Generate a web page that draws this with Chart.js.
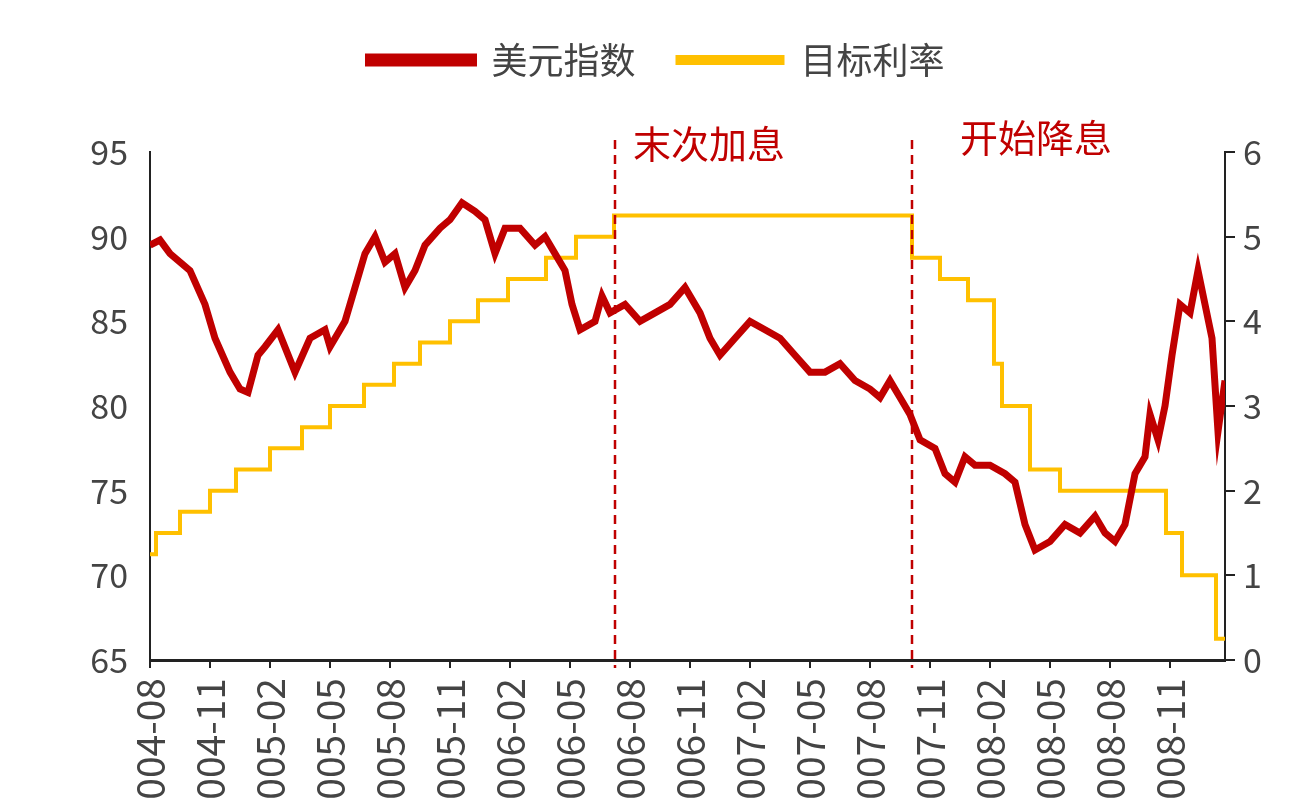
<!DOCTYPE html>
<html><head><meta charset="utf-8">
<script src="https://cdn.jsdelivr.net/npm/chart.js@4"></script>
<style>html,body{margin:0;padding:0;background:#fff;overflow:hidden}#wrap{width:1313px;height:900px}</style>
</head><body><div id="wrap"><canvas id="c" width="1313" height="900"></canvas></div>
<script>
// months counted from 2004-08
const dxyX = [0,0.5,1,2,2.75,3.25,4,4.5,4.9,5.4,5.75,6.4,7.25,8,8.75,9,9.75,10.25,10.75,11.25,11.75,12.25,12.75,13.25,13.75,14.5,15,15.6,16.25,16.75,17.25,17.75,18.5,19.25,19.75,20.25,20.75,21.1,21.5,22.25,22.6,23,23.75,24.5,25.25,26,26.75,27.5,28,28.5,29.25,30,30.75,31.5,32.25,33,33.75,34.5,35.25,36,36.5,37,37.5,38,38.5,39.25,39.75,40.25,40.75,41.25,42,42.75,43.25,43.75,44.25,45,45.75,46.5,47.25,47.75,48.25,48.75,49.25,49.75,50,50.4,50.75,51.1,51.5,52,52.4,52.75,53.1,53.4,53.75];
const dxyY = [89.5,89.8,89,88,86,84,82,81,80.8,83,83.5,84.5,82,84,84.5,83.5,85,87,89,90,88.5,89,87,88,89.5,90.5,91,92,91.5,91,89,90.5,90.5,89.5,90,89,88,86,84.5,85,86.5,85.5,86,85,85.5,86,87,85.5,84,83,84,85,84.5,84,83,82,82,82.5,81.5,81,80.5,81.5,80.5,79.5,78,77.5,76,75.5,77,76.5,76.5,76,75.5,73,71.5,72,73,72.5,73.5,72.5,72,73,76,77,79.5,78,80,83,86,85.5,88,86,84,78.5,81.5];
const fedX = [0,0.3,1.5,3,4.3,6,7.6,9,10.7,12.2,13.5,15,16.4,17.9,19.8,21.3,23.2,38.1,39.5,40.9,42.2,42.6,44,45.5,50.8,51.6,53.3,53.75];
const fedY = [1.25,1.5,1.75,2,2.25,2.5,2.75,3,3.25,3.5,3.75,4,4.25,4.5,4.75,5,5.25,4.75,4.5,4.25,3.5,3,2.25,2,1.5,1,0.25,0.25];
const tickMonths = [0,3,6,9,12,15,18,21,24,27,30,33,36,39,42,45,48,51];
const tickLabels = ['2004-08','2004-11','2005-02','2005-05','2005-08','2005-11','2006-02','2006-05','2006-08','2006-11','2007-02','2007-05','2007-08','2007-11','2008-02','2008-05','2008-08','2008-11'];
const eventMonths = [23.25, 38.1];
const eventLabels = ['末次加息', '开始降息'];

const red = '#c00000', yellow = '#ffc000';
const font = 'Noto Sans CJK SC';

const markers = {
  id: 'markers',
  beforeInit(chart) {
    const fit = chart.legend.fit;
    chart.legend.fit = function() { fit.call(this); this.height = 152; };
  },
  afterDatasetsDraw(chart) {
    const {ctx, chartArea, scales} = chart;
    ctx.save();
    eventMonths.forEach((m, i) => {
      const x = scales.x.getPixelForValue(m);
      ctx.strokeStyle = red; ctx.lineWidth = 2.5; ctx.setLineDash([9, 6]);
      ctx.beginPath(); ctx.moveTo(x, chartArea.top - 12); ctx.lineTo(x, chartArea.bottom + 8); ctx.stroke();
      ctx.setLineDash([]);
      ctx.fillStyle = red; ctx.font = '38px "' + font + '"'; ctx.textBaseline = 'middle';
      ctx.fillText(eventLabels[i], x + (i ? 48 : 18), chartArea.top - (i ? 14 : 8));
    });
    ctx.restore();
  }
};

new Chart(document.getElementById('c'), {
  type: 'line',
  data: {
    datasets: [
      { label: '美元指数', data: dxyX.map((x, i) => ({x, y: dxyY[i]})), borderColor: red, backgroundColor: red,
        borderWidth: 7, pointRadius: 0, tension: 0, yAxisID: 'y' },
      { label: '目标利率', data: fedX.map((x, i) => ({x, y: fedY[i]})), borderColor: yellow, backgroundColor: yellow,
        borderWidth: 4, pointRadius: 0, stepped: true, yAxisID: 'y2' }
    ]
  },
  options: {
    responsive: false, animation: false,
    layout: { padding: 0 },
    plugins: {
      legend: { position: 'top', labels: { boxWidth: 105, boxHeight: 6, padding: 42, color: '#444', font: { family: font, size: 36 } } },
      tooltip: { enabled: false }
    },
    scales: {
      x: {
        type: 'linear', min: 0, max: 53.75,
        afterBuildTicks: s => { s.ticks = tickMonths.map(v => ({value: v})); },
        afterFit: s => { s.height = 900 - 660; },
        ticks: { callback: v => tickLabels[tickMonths.indexOf(v)], maxRotation: 90, minRotation: 90, color: '#444', font: { family: font, size: 39 }, padding: 10 },
        grid: { drawOnChartArea: false, tickLength: 8, color: '#222', lineWidth: 2 },
        border: { color: '#222', width: 3 }
      },
      y: {
        min: 65, max: 95, position: 'left',
        afterFit: s => { s.width = 150; },
        ticks: { stepSize: 5, color: '#444', font: { family: font, size: 34 }, padding: 22 },
        grid: { drawOnChartArea: false, tickLength: 0 }, border: { color: '#222', width: 2 }
      },
      y2: {
        min: 0, max: 6, position: 'right',
        afterFit: s => { s.width = 1313 - 1225; },
        ticks: { stepSize: 1, color: '#444', font: { family: font, size: 34 }, padding: 8 },
        grid: { drawOnChartArea: false, tickLength: 10, color: '#222', lineWidth: 2 }, border: { color: '#222', width: 2 }
      }
    }
  },
  plugins: [markers]
});
</script></body></html>
